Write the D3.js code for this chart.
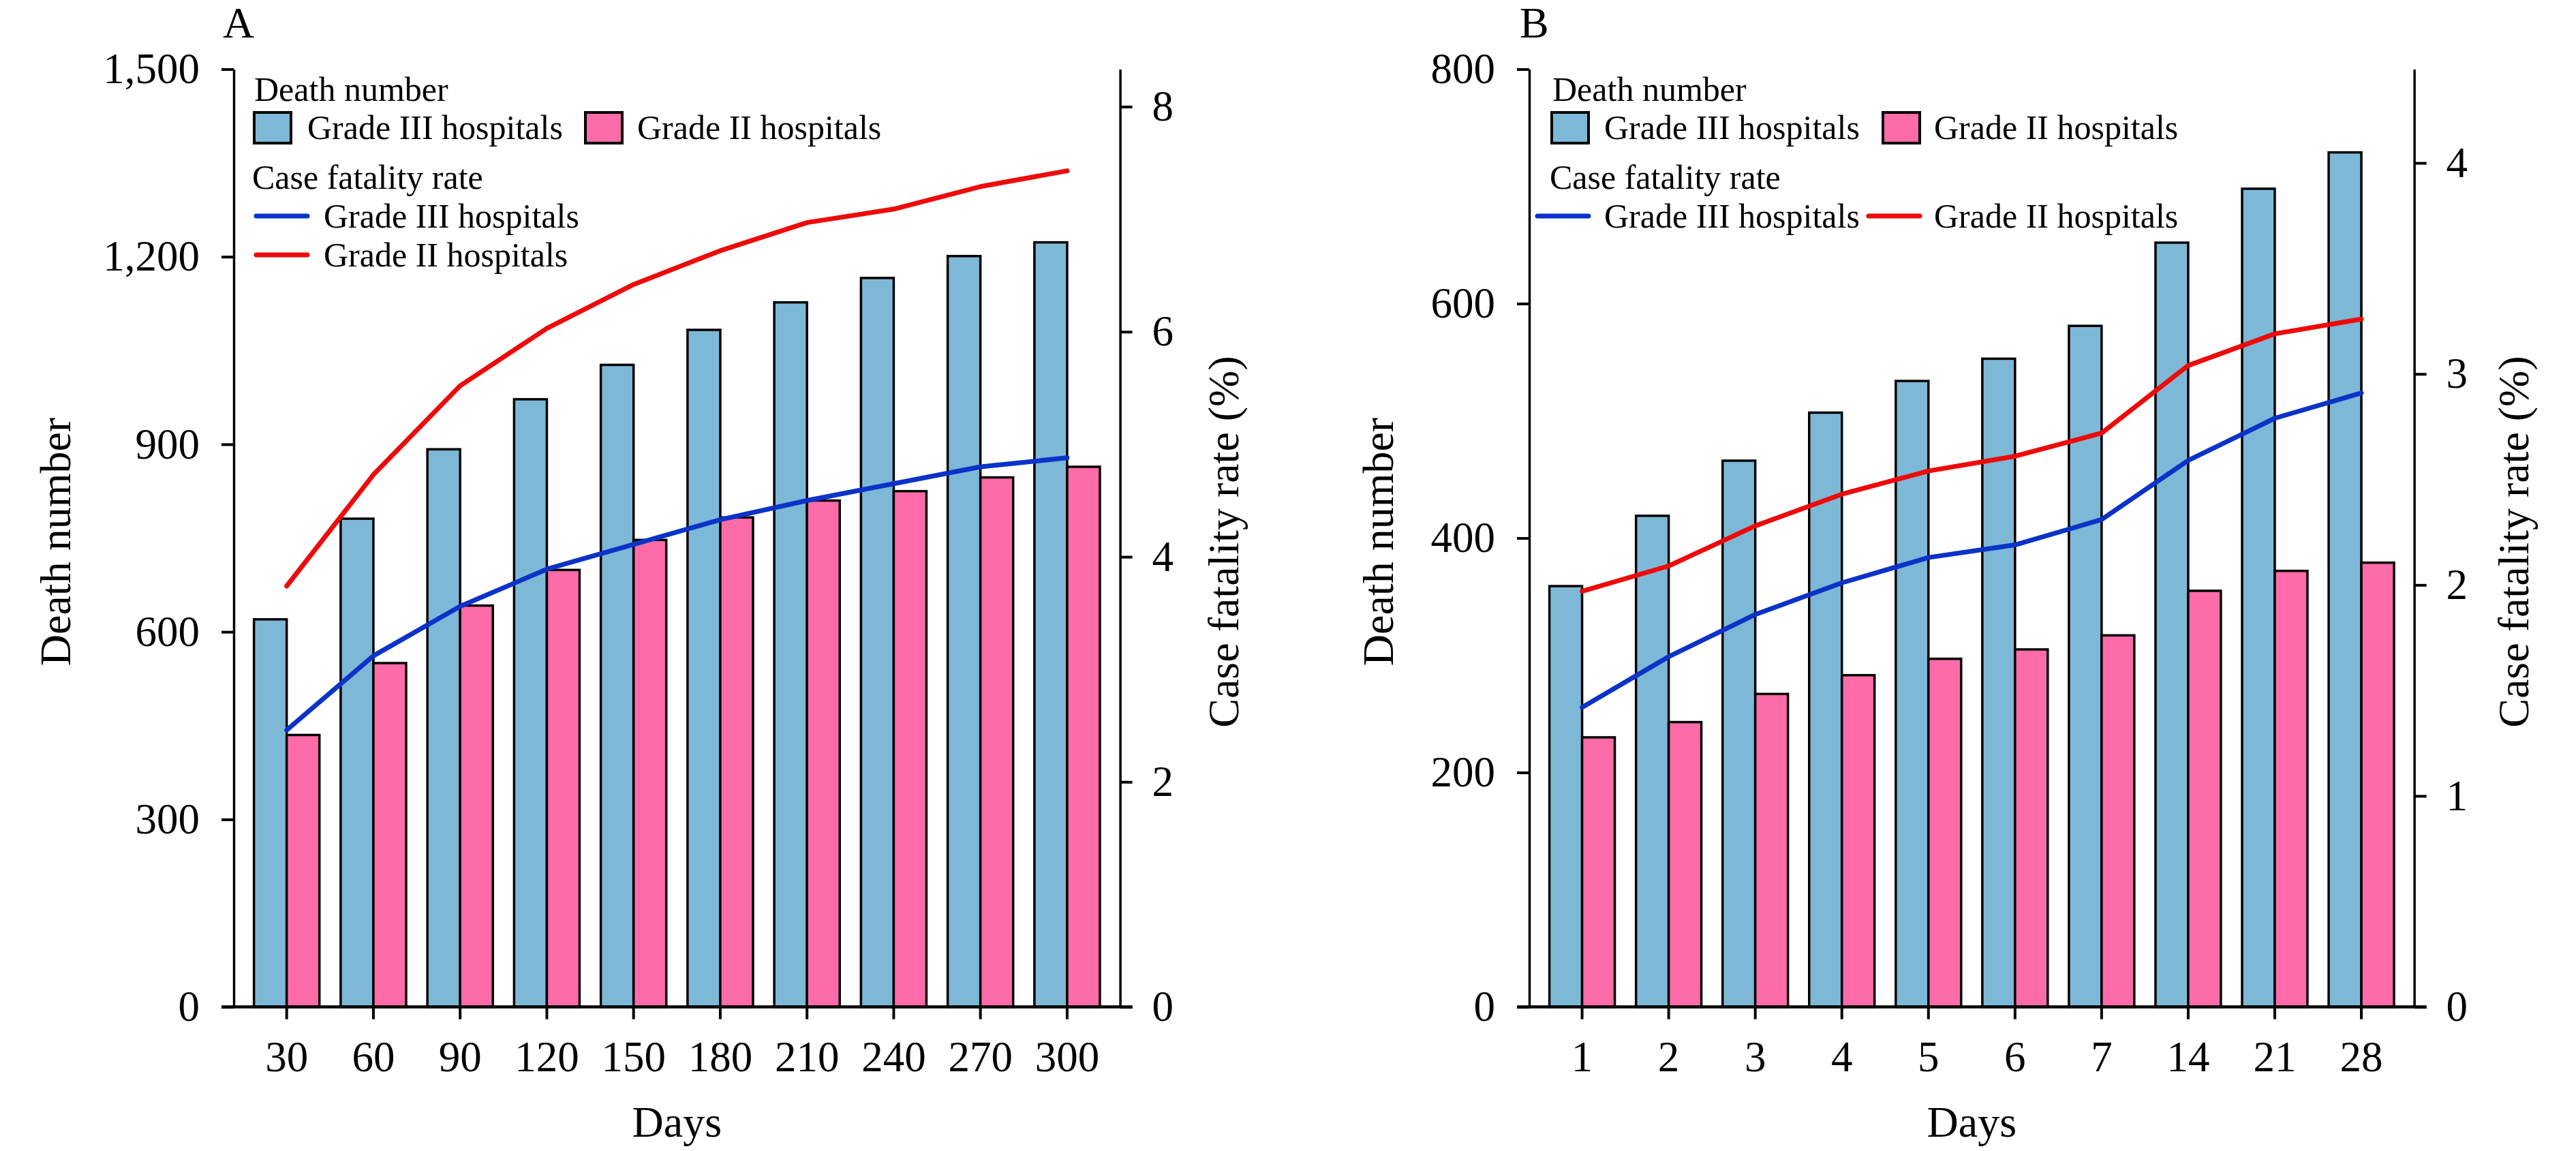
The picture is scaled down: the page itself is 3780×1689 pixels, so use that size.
<!DOCTYPE html>
<html>
<head>
<meta charset="utf-8">
<script src="https://cdn.jsdelivr.net/npm/d3@7"></script>
<style>
body { margin: 0; background: #fff; }
</style>
</head>
<body>
<script>
// Panel A: cumulative days
var daysA = ["30", "60", "90", "120", "150", "180", "210", "240", "270", "300"];
var deathG3A = [620, 781, 892, 972, 1027, 1083, 1127, 1166, 1201, 1223];
var deathG2A = [435, 550, 642, 699, 747, 783, 810, 825, 847, 864];
var cfrG3A = [2.46, 3.12, 3.56, 3.89, 4.11, 4.33, 4.50, 4.65, 4.80, 4.88];
var cfrG2A = [3.74, 4.73, 5.52, 6.03, 6.42, 6.72, 6.97, 7.09, 7.29, 7.43];
var leftTicksA = [0, 300, 600, 900, 1200, 1500];
var rightTicksA = [0, 2, 4, 6, 8];

// Panel B: early days
var daysB = ["1", "2", "3", "4", "5", "6", "7", "14", "21", "28"];
var deathG3B = [359, 419, 466, 507, 534, 553, 581, 652, 698, 729];
var deathG2B = [230, 243, 267, 283, 297, 305, 317, 355, 372, 379];
var cfrG3B = [1.42, 1.66, 1.86, 2.01, 2.13, 2.19, 2.31, 2.59, 2.79, 2.91];
var cfrG2B = [1.97, 2.09, 2.28, 2.43, 2.54, 2.61, 2.72, 3.04, 3.19, 3.26];
var leftTicksB = [0, 200, 400, 600, 800];
var rightTicksB = [0, 1, 2, 3, 4];

var seriesNames = ["Grade III hospitals", "Grade II hospitals"];

var font = "Liberation Serif, Times New Roman, serif";
var barColors = ["#7eb8d7", "#fd6ba8"];
var lineColors = ["#0b33c8", "#ee0a0a"];

var svg = d3.select("body").append("svg")
  .attr("width", 3780)
  .attr("height", 1689);

var plotTop = 101.5, plotBottom = 1477.6;

function drawPanel(p) {
  var g = svg.append("g");

  var x = d3.scaleBand().domain(p.days)
    .range([p.left, p.right])
    .paddingInner(0.245).paddingOuter(0.233);
  var yL = d3.scaleLinear().domain([0, p.leftMax]).range([plotBottom, plotTop]);
  var yR = d3.scaleLinear().domain([0, p.leftMax / 180]).range([plotBottom, plotTop]);
  var bw = x.bandwidth() / 2;

  // bars
  [p.g3, p.g2].forEach(function (vals, k) {
    g.append("g").selectAll("rect")
      .data(vals)
      .enter()
      .append("rect")
      .attr("x", function (d, i) { return x(p.days[i]) + k * bw; })
      .attr("y", function (d) { return yL(d); })
      .attr("width", bw)
      .attr("height", function (d) { return plotBottom - yL(d); })
      .attr("fill", barColors[k])
      .attr("stroke", "#000")
      .attr("stroke-width", 3.5);
  });

  // left axis
  var ax = g.append("g")
    .attr("transform", "translate(" + p.left + ",0)")
    .call(d3.axisLeft(yL).tickValues(p.leftTicks).tickFormat(d3.format(","))
      .tickSize(18).tickPadding(32).tickSizeOuter(0));
  ax.attr("font-family", font).attr("font-size", 63);
  ax.selectAll("line").attr("stroke-width", 4);
  ax.select(".domain").attr("stroke-width", 3.5);

  // right axis
  var ar = g.append("g")
    .attr("transform", "translate(" + p.right + ",0)")
    .call(d3.axisRight(yR).tickValues(p.rightTicks).tickFormat(d3.format("d"))
      .tickSize(18).tickPadding(29).tickSizeOuter(0));
  ar.attr("font-family", font).attr("font-size", 63);
  ar.selectAll("line").attr("stroke-width", 4);
  ar.select(".domain").attr("stroke-width", 3.5);

  // bottom axis
  var ab = g.append("g")
    .attr("transform", "translate(0," + plotBottom + ")")
    .call(d3.axisBottom(x).tickSize(18).tickPadding(32).tickSizeOuter(0));
  ab.attr("font-family", font).attr("font-size", 63);
  ab.select(".domain").remove();
  ab.selectAll(".tick").attr("transform", function (d) {
    return "translate(" + (x(d) + bw) + ",0)";
  });
  ab.selectAll("line").attr("stroke-width", 4);
  g.append("line")
    .attr("x1", p.left - 18).attr("x2", p.right + 18)
    .attr("y1", plotBottom).attr("y2", plotBottom)
    .attr("stroke", "#000").attr("stroke-width", 4.5);

  // lines
  var line = d3.line()
    .x(function (d, i) { return x(p.days[i]) + bw; })
    .y(function (d) { return yR(d); });
  [p.c3, p.c2].forEach(function (vals, k) {
    g.append("path")
      .datum(vals)
      .attr("d", line)
      .attr("fill", "none")
      .attr("stroke", lineColors[k])
      .attr("stroke-width", 7)
      .attr("stroke-linejoin", "round")
      .attr("stroke-linecap", "round");
  });

  // titles
  g.append("text").text(p.label)
    .attr("x", p.labelX).attr("y", 55)
    .attr("font-family", font).attr("font-size", 64);
  g.append("text").text("Death number")
    .attr("transform", "translate(" + p.leftTitleX + ",795) rotate(-90)")
    .attr("text-anchor", "middle")
    .attr("font-family", font).attr("font-size", 64);
  g.append("text").text("Case fatality rate (%)")
    .attr("transform", "translate(" + p.rightTitleX + ",795) rotate(-90)")
    .attr("text-anchor", "middle")
    .attr("font-family", font).attr("font-size", 64);
  g.append("text").text("Days")
    .attr("x", (p.left + p.right) / 2).attr("y", 1668)
    .attr("text-anchor", "middle")
    .attr("font-family", font).attr("font-size", 64);

  // legend
  var lg = g.append("g").attr("font-family", font).attr("font-size", 50);
  lg.append("text").text("Death number").attr("x", p.lg.titleX).attr("y", 148);
  p.lg.swatchX.forEach(function (sx, k) {
    lg.append("rect")
      .attr("x", sx).attr("y", 165).attr("width", 54).attr("height", 45)
      .attr("fill", barColors[k]).attr("stroke", "#000").attr("stroke-width", 4);
    lg.append("text").text(seriesNames[k]).attr("x", p.lg.swatchTextX[k]).attr("y", 204);
  });
  lg.append("text").text("Case fatality rate").attr("x", p.lg.title2X).attr("y", 277);
  p.lg.lineX.forEach(function (lx, k) {
    var ly = p.lg.lineY[k];
    lg.append("line")
      .attr("x1", lx).attr("x2", lx + 75)
      .attr("y1", ly).attr("y2", ly)
      .attr("stroke", lineColors[k]).attr("stroke-width", 7)
      .attr("stroke-linecap", "round");
    lg.append("text").text(seriesNames[k]).attr("x", p.lg.lineTextX[k]).attr("y", ly + 17);
  });
}

drawPanel({
  label: "A", labelX: 327,
  days: daysA, g3: deathG3A, g2: deathG2A, c3: cfrG3A, c2: cfrG2A,
  leftMax: 1500, leftTicks: leftTicksA, rightTicks: rightTicksA,
  left: 343, right: 1643.6,
  leftTitleX: 103, rightTitleX: 1817,
  lg: {
    titleX: 373, swatchX: [373, 859], swatchTextX: [451, 935],
    title2X: 370, lineX: [376, 376], lineY: [317, 374], lineTextX: [475, 475]
  }
});

drawPanel({
  label: "B", labelX: 2230,
  days: daysB, g3: deathG3B, g2: deathG2B, c3: cfrG3B, c2: cfrG2B,
  leftMax: 800, leftTicks: leftTicksB, rightTicks: rightTicksB,
  left: 2244, right: 3542.6,
  leftTitleX: 2044, rightTitleX: 3710,
  lg: {
    titleX: 2278, swatchX: [2277, 2763], swatchTextX: [2354, 2838],
    title2X: 2274, lineX: [2256, 2742], lineY: [317, 317], lineTextX: [2354, 2838]
  }
});
</script>
</body>
</html>
